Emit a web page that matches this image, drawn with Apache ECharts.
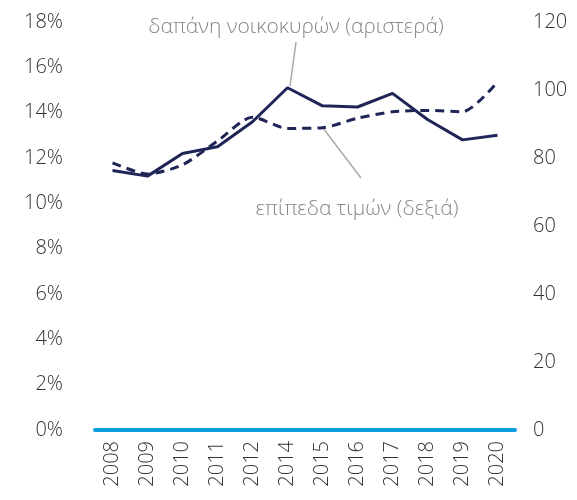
<!DOCTYPE html>
<html>
<head>
    <meta charset="UTF-8">
    <title>δαπάνη νοικοκυρών</title>
    <script src="https://cdn.jsdelivr.net/npm/echarts@6/dist/echarts.min.js"></script>
    <style>
        html, body { margin: 0; padding: 0; background: #fff; }
        #chartContainer { width: 577px; height: 500px; }
    </style>
</head>
<body>
<div id="chartContainer"></div>
<script>
    // έτη (το 2013 λείπει στο πρωτότυπο)
    var years = ['2008', '2009', '2010', '2011', '2012', '2014', '2015', '2016', '2017', '2018', '2019', '2020'];
    // δαπάνη νοικοκυρών, % (αριστερός άξονας)
    var spending = [11.45, 11.2, 12.2, 12.5, 13.6, 15.1, 14.3, 14.25, 14.85, 13.7, 12.8, 13.0];
    // επίπεδα τιμών (δεξιός άξονας)
    var prices = [78.6, 75.3, 78.0, 85.0, 92.0, 88.7, 88.9, 91.7, 93.6, 94.0, 93.6, 102.4];

    var textFont = '"Open Sans", "DejaVu Sans", sans-serif';
    var navy = '#1f2556';

    var myChart = echarts.init(document.getElementById('chartContainer'));
    var option = {
        animation: false,
        grid: { left: 95, right: 62, top: 22, bottom: 70 },
        xAxis: {
            type: 'category',
            data: years,
            boundaryGap: true,
            axisLine: { lineStyle: { color: '#0a9fdb', width: 4 } },
            axisTick: { show: false },
            axisLabel: {
                rotate: 90,
                color: '#333',
                fontSize: 20,
                fontFamily: textFont,
                fontWeight: 300,
                margin: 11
            }
        },
        yAxis: [{
            type: 'value',
            min: 0,
            max: 18,
            interval: 2,
            splitLine: { show: false },
            axisLine: { show: false },
            axisTick: { show: false },
            axisLabel: {
                formatter: '{value}%',
                color: '#333',
                fontSize: 20,
                fontFamily: textFont,
                fontWeight: 300,
                margin: 32
            }
        }, {
            type: 'value',
            min: 0,
            max: 120,
            interval: 20,
            splitLine: { show: false },
            axisLine: { show: false },
            axisTick: { show: false },
            axisLabel: {
                color: '#333',
                fontSize: 20,
                fontFamily: textFont,
                fontWeight: 300,
                margin: 18
            }
        }],
        series: [{
            name: 'δαπάνη νοικοκυρών',
            type: 'line',
            yAxisIndex: 0,
            data: spending,
            symbol: 'none',
            z: 3,
            lineStyle: { color: navy, width: 3 }
        }, {
            name: 'επίπεδα τιμών',
            type: 'line',
            yAxisIndex: 1,
            data: prices,
            symbol: 'none',
            smooth: 0.25,
            z: 2,
            lineStyle: { color: navy, width: 3, type: [9, 6] }
        }],
        graphic: [
            { type: 'line', shape: { x1: 290, y1: 86, x2: 296, y2: 42 }, style: { stroke: '#aaa', lineWidth: 1.5 } },
            { type: 'line', shape: { x1: 323, y1: 128, x2: 361, y2: 178 }, style: { stroke: '#aaa', lineWidth: 1.5 } },
            {
                type: 'text',
                style: { text: 'δαπάνη νοικοκυρών (αριστερά)', x: 296, y: 27, fill: '#888', font: '300 21px ' + textFont, textAlign: 'center', textVerticalAlign: 'middle' }
            },
            {
                type: 'text',
                style: { text: 'επίπεδα τιμών (δεξιά)', x: 357, y: 209, fill: '#888', font: '300 21px ' + textFont, textAlign: 'center', textVerticalAlign: 'middle' }
            }
        ]
    };
    myChart.setOption(option);
</script>
</body>
</html>
